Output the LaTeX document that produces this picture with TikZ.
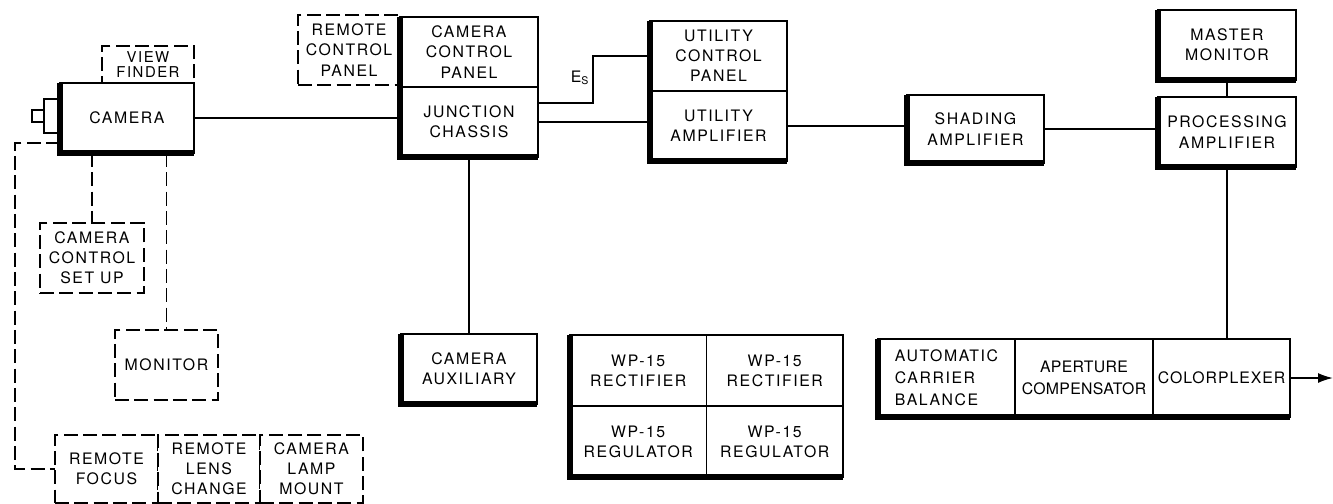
\documentclass[tikz,border=0pt]{standalone}
\usepackage{fontspec}
\setsansfont{TeX Gyre Heros}[LetterSpace=10]
\usepackage{tikz}
\usetikzlibrary{arrows.meta, positioning, calc}
\tikzset{
  unitbox/.style={
    draw, fill=white, line width=1pt, inner sep=0pt, outer sep=0pt,
    align=center, font=\sffamily\fontsize{9}{11.5}\selectfont
  },
  dashbox/.style={
    unitbox, dash pattern=on 8pt off 3pt
  },
  unitline/.style={line width=1pt},
  dashline/.style={line width=1pt, dash pattern=on 8pt off 3pt},
  heavyedge/.style={line width=3.5pt},
  unitlabel/.style={font=\sffamily\fontsize{9}{10}\selectfont}
}

\begin{document}
\begin{tikzpicture}[x=0.02cm, y=-0.02cm]
  \useasboundingbox (0,0) rectangle (1333,504);

  % dashed (optional) units
  \node[dashbox, minimum width=1.84cm, minimum height=0.74cm,
    font=\sffamily\fontsize{8.5}{8.5}\selectfont] (vf) at (148,64.5) {VIEW\\FINDER};
  \node[dashbox, minimum width=2.04cm, minimum height=1.40cm] (rcp) at (349,50) {REMOTE\\CONTROL\\PANEL};
  \node[dashbox, minimum width=2.08cm, minimum height=1.40cm] (ccs) at (92,258) {CAMERA\\CONTROL\\SET UP};
  \node[dashbox, minimum width=2.06cm, minimum height=1.40cm] (mon) at (166.5,365) {MONITOR};
  \node[dashbox, minimum width=2.06cm, minimum height=1.36cm] (rf) at (106.5,469) {REMOTE\\FOCUS};
  \node[dashbox, minimum width=2.04cm, minimum height=1.36cm] (rlc) at (209,469) {REMOTE\\LENS\\CHANGE};
  \node[dashbox, minimum width=2.06cm, minimum height=1.36cm] (clm) at (311.5,469) {CAMERA\\LAMP\\MOUNT};

  % camera with lens
  \draw[unitline] (44,99) rectangle (60,133);
  \draw[unitline] (32,110) rectangle (44,122);
  \node[unitbox, minimum width=2.68cm, minimum height=1.40cm] (cam) at (127,118) {CAMERA};

  % solid units
  \node[unitbox, minimum width=2.76cm, minimum height=1.40cm] (ccp) at (469,52) {CAMERA\\CONTROL\\PANEL};
  \node[unitbox, minimum width=2.76cm, minimum height=1.40cm] (jc) at (469,122) {JUNCTION\\CHASSIS};
  \node[unitbox, minimum width=2.74cm, minimum height=1.40cm] (ucp) at (718.5,56) {UTILITY\\CONTROL\\PANEL};
  \node[unitbox, minimum width=2.74cm, minimum height=1.40cm] (ua) at (718.5,126) {UTILITY\\AMPLIFIER};
  \node[unitbox, minimum width=2.74cm, minimum height=1.36cm] (sa) at (975.5,129) {SHADING\\AMPLIFIER};
  \node[unitbox, minimum width=2.76cm, minimum height=1.40cm] (mm) at (1227,45) {MASTER\\MONITOR};
  \node[unitbox, minimum width=2.76cm, minimum height=1.40cm] (pa) at (1227,132) {PROCESSING\\AMPLIFIER};
  \node[unitbox, minimum width=2.72cm, minimum height=1.40cm] (cax) at (469,369) {CAMERA\\AUXILIARY};

  % power supply rack
  \node[unitbox, minimum width=2.73cm, minimum height=1.42cm] (rect1) at (638.25,370.5) {WP-15\\RECTIFIER};
  \node[unitbox, minimum width=2.73cm, minimum height=1.42cm] (rect2) at (774.75,370.5) {WP-15\\RECTIFIER};
  \node[unitbox, minimum width=2.73cm, minimum height=1.42cm] (reg1) at (638.25,441.5) {WP-15\\REGULATOR};
  \node[unitbox, minimum width=2.73cm, minimum height=1.42cm] (reg2) at (774.75,441.5) {WP-15\\REGULATOR};

  % colorplexer rack
  \node[unitbox, minimum width=2.74cm, minimum height=1.56cm, align=left,
    font=\sffamily\fontsize{9}{12.5}\selectfont] (acb) at (946.5,378) {AUTOMATIC\\CARRIER\\BALANCE};
  \node[unitbox, minimum width=2.76cm, minimum height=1.56cm,
    font=\sffamily\fontsize{9}{12.5}\selectfont\addfontfeature{LetterSpace=2}] (apc) at (1084,378) {APERTURE\\COMPENSATOR};
  \node[unitbox, minimum width=2.74cm, minimum height=1.56cm,
    font=\sffamily\fontsize{9}{11.5}\selectfont\addfontfeature{LetterSpace=6}] (col) at (1221.5,378) {COLORPLEXER};

  % heavy left and bottom edges
  \draw[heavyedge] (cam.north west) |- (cam.south east);
  \draw[heavyedge] (ccp.north west) |- (jc.south east);
  \draw[heavyedge] (ucp.north west) |- (ua.south east);
  \draw[heavyedge] (sa.north west) |- (sa.south east);
  \draw[heavyedge] (mm.north west) |- (mm.south east);
  \draw[heavyedge] (pa.north west) |- (pa.south east);
  \draw[heavyedge] (cax.north west) |- (cax.south east);
  \draw[heavyedge] (rect1.north west) |- (reg2.south east);
  \draw[heavyedge] (acb.north west) |- (col.south east);

  % signal connections
  \draw[unitline] (cam.east) -- (cam.east -| jc.west);
  \draw[unitline] ([yshift=0.38cm]jc.east) -- ++(55,0) |- (ucp.west);
  \node[unitlabel] (es) at (580,78) {E\textsubscript{S}};
  \draw[unitline] (jc.east) -- (jc.east -| ua.west);
  \draw[unitline] (jc.south) -- (cax.north);
  \draw[unitline] (ua.east) -- (ua.east -| sa.west);
  \draw[unitline] (sa.east) -- (sa.east -| pa.west);
  \draw[unitline] (mm.south) -- (pa.north);
  \draw[unitline] (pa.south) -- (pa.south |- col.north);
  \coordinate (out) at (1333,378);
  \draw[unitline, -{Latex[length=3mm, width=2mm]}] (col.east) -- (out);

  % dashed connections
  \coordinate (loop) at (15,143);
  \draw[dashline] (cam.west |- loop) -- (loop) |- (rf.west);
  \draw[dashline] (ccs.north |- cam.south) -- (ccs.north);
  \draw[dashline] (mon.north |- cam.south) -- (mon.north);
\end{tikzpicture}
\end{document}
